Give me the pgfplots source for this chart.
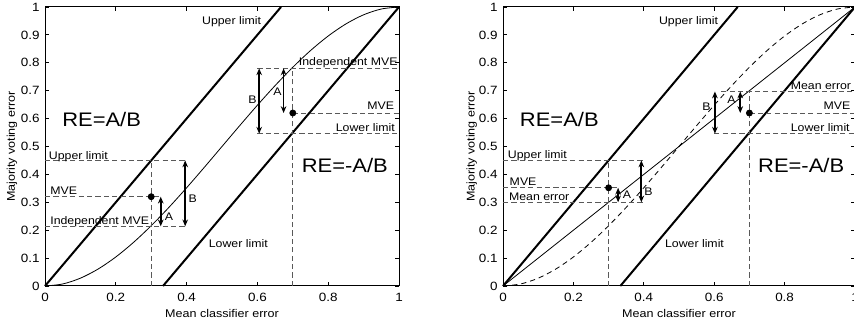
\documentclass[border=0pt]{standalone}
\usepackage{fontspec}
\setmainfont{Liberation Sans}[FakeStretch=1.12]
\usepackage{pgfplots}
\pgfplotsset{compat=1.18}
\usetikzlibrary{arrows.meta}
\tikzset{
  lbl/.style={font=\fontsize{5.5}{6}\selectfont, inner sep=0pt},
  big/.style={font=\fontsize{9.8}{11}\selectfont, inner sep=0pt}
}
\pgfplotsset{
  myax/.style={scale only axis, width=177pt, height=139.5pt,
    xmin=0,xmax=1,ymin=0,ymax=1,
    xtick={0,0.2,0.4,0.6,0.8,1}, ytick={0,0.1,0.2,0.3,0.4,0.5,0.6,0.7,0.8,0.9,1},
    xticklabels={0,0.2,0.4,0.6,0.8,1},
    yticklabels={0,0.1,0.2,0.3,0.4,0.5,0.6,0.7,0.8,0.9,1},
    tick align=inside, major tick length=2pt,
    tick style={black, line width=0.4pt},
    axis line style={line width=0.5pt},
    tick label style={font=\fontsize{6}{7}\selectfont},
    yticklabel style={xshift=0.8pt},
    label style={font=\fontsize{5.6}{6.5}\selectfont},
    xlabel={Mean classifier error}, ylabel={Majority voting error},
    xlabel style={at={(axis description cs:0.5,-0.097)}, anchor=center},
    clip=false},
  lim/.style={black, line width=1pt},
  ann/.style={black!65, line width=0.5pt, dash pattern=on 2.6pt off 1.6pt},
  arr/.style={black, line width=0.85pt, {Stealth[length=3.4pt,width=2.8pt]}-{Stealth[length=3.4pt,width=2.8pt]}},
  dot/.style={only marks, mark=*, mark size=1.5pt, black}
}
\begin{document}
\begin{tikzpicture}
\useasboundingbox (0,0) rectangle (427pt,162pt);
\clip (0,0) rectangle (427pt,162pt);
% ---------------- left panel
\begin{axis}[myax, at={(22.5pt,19pt)}, anchor=south west, width=177pt,
  ylabel style={at={(axis description cs:-0.093,0.5)}, anchor=center}]
\addplot[lim] coordinates {(0,0) (0.6667,1)};
\addplot[lim] coordinates {(0.3333,0) (1,1)};
\addplot[black, line width=0.4pt, smooth] coordinates {
(0,0) (0.05,0.00725) (0.1,0.028) (0.15,0.06075) (0.2,0.104) (0.25,0.15625)
(0.3,0.216) (0.35,0.28175) (0.4,0.352) (0.45,0.42525) (0.5,0.5) (0.55,0.57475)
(0.6,0.648) (0.65,0.71825) (0.7,0.784) (0.75,0.84375) (0.8,0.896) (0.85,0.93925)
(0.9,0.972) (0.95,0.99275) (1,1)};
% dashed guides lower-left
\addplot[ann] coordinates {(0,0.45) (0.4,0.45)};
\addplot[ann] coordinates {(0,0.32) (0.327,0.32)};
\addplot[ann] coordinates {(0,0.214) (0.4,0.214)};
\addplot[ann] coordinates {(0.3,0) (0.3,0.45)};
% dashed guides upper-right
\addplot[ann] coordinates {(0.6,0.78) (1,0.78)};
\addplot[ann] coordinates {(0.7,0.62) (1,0.62)};
\addplot[ann] coordinates {(0.6,0.546) (1,0.546)};
\addplot[ann] coordinates {(0.7,0) (0.7,0.78)};
% arrows
\addplot[arr] coordinates {(0.327,0.32) (0.327,0.214)};
\addplot[arr] coordinates {(0.396,0.45) (0.396,0.214)};
\addplot[arr] coordinates {(0.605,0.78) (0.605,0.546)};
\addplot[arr] coordinates {(0.674,0.78) (0.674,0.62)};
\addplot[dot] coordinates {(0.3,0.32) (0.7,0.62)};
% labels
\node[lbl, anchor=base west] at (axis cs:0.01,0.455) {Upper limit};
\node[lbl, anchor=base west] at (axis cs:0.014,0.328) {MVE};
\node[lbl, anchor=base west] at (axis cs:0.014,0.219) {Independent MVE};
\node[lbl, anchor=base east] at (axis cs:0.997,0.789) {Independent MVE};
\node[lbl, anchor=base east] at (axis cs:0.987,0.631) {MVE};
\node[lbl, anchor=base east] at (axis cs:0.989,0.554) {Lower limit};
\node[lbl] at (axis cs:0.35,0.248) {A};
\node[lbl] at (axis cs:0.417,0.314) {B};
\node[lbl] at (axis cs:0.586,0.667) {B};
\node[lbl] at (axis cs:0.657,0.695) {A};
\node[lbl] at (axis cs:0.527,0.948) {Upper limit};
\node[lbl] at (axis cs:0.546,0.152) {Lower limit};
\node[big] at (axis cs:0.16,0.595) {RE=A/B};
\node[big] at (axis cs:0.847,0.431) {RE=-A/B};
\end{axis}
% ---------------- right panel
\begin{axis}[myax, at={(251.5pt,19pt)}, anchor=south west, width=176pt,
  ylabel style={at={(axis description cs:-0.089,0.5)}, anchor=center}]
\addplot[lim] coordinates {(0,0) (0.6667,1)};
\addplot[lim] coordinates {(0.3333,0) (1,1)};
\addplot[black, line width=0.4pt] coordinates {(0,0) (1,1)};
\addplot[black, line width=0.4pt, smooth, dash pattern=on 2.6pt off 2pt] coordinates {
(0,0) (0.05,0.00725) (0.1,0.028) (0.15,0.06075) (0.2,0.104) (0.25,0.15625)
(0.3,0.216) (0.35,0.28175) (0.4,0.352) (0.45,0.42525) (0.5,0.5) (0.55,0.57475)
(0.6,0.648) (0.65,0.71825) (0.7,0.784) (0.75,0.84375) (0.8,0.896) (0.85,0.93925)
(0.9,0.972) (0.95,0.99275) (1,1)};
% dashed guides lower-left
\addplot[ann] coordinates {(0,0.45) (0.4,0.45)};
\addplot[ann] coordinates {(0,0.352) (0.33,0.352)};
\addplot[ann] coordinates {(0,0.30) (0.4,0.30)};
\addplot[ann] coordinates {(0.3,0) (0.3,0.45)};
% dashed guides upper-right
\addplot[ann] coordinates {(0.62,0.697) (1,0.697)};
\addplot[ann] coordinates {(0.7,0.62) (1,0.62)};
\addplot[ann] coordinates {(0.6,0.546) (1,0.546)};
\addplot[ann] coordinates {(0.7,0) (0.7,0.697)};
% arrows
\addplot[arr] coordinates {(0.327,0.352) (0.327,0.30)};
\addplot[arr] coordinates {(0.393,0.45) (0.393,0.30)};
\addplot[arr] coordinates {(0.602,0.697) (0.602,0.546)};
\addplot[arr] coordinates {(0.674,0.697) (0.674,0.62)};
\addplot[dot] coordinates {(0.3,0.352) (0.7,0.62)};
% labels
\node[lbl, anchor=base west] at (axis cs:0.013,0.457) {Upper limit};
\node[lbl, anchor=base west] at (axis cs:0.018,0.361) {MVE};
\node[lbl, anchor=base west] at (axis cs:0.016,0.307) {Mean error};
\node[lbl, anchor=base east] at (axis cs:0.99,0.705) {Mean error};
\node[lbl, anchor=base east] at (axis cs:0.988,0.631) {MVE};
\node[lbl, anchor=base east] at (axis cs:0.986,0.554) {Lower limit};
\node[lbl] at (axis cs:0.352,0.326) {A};
\node[lbl] at (axis cs:0.413,0.338) {B};
\node[lbl] at (axis cs:0.578,0.643) {B};
\node[lbl] at (axis cs:0.649,0.667) {A};
\node[lbl] at (axis cs:0.527,0.948) {Upper limit};
\node[lbl] at (axis cs:0.544,0.152) {Lower limit};
\node[big] at (axis cs:0.16,0.595) {RE=A/B};
\node[big] at (axis cs:0.847,0.431) {RE=-A/B};
\end{axis}
\end{tikzpicture}
\end{document}
